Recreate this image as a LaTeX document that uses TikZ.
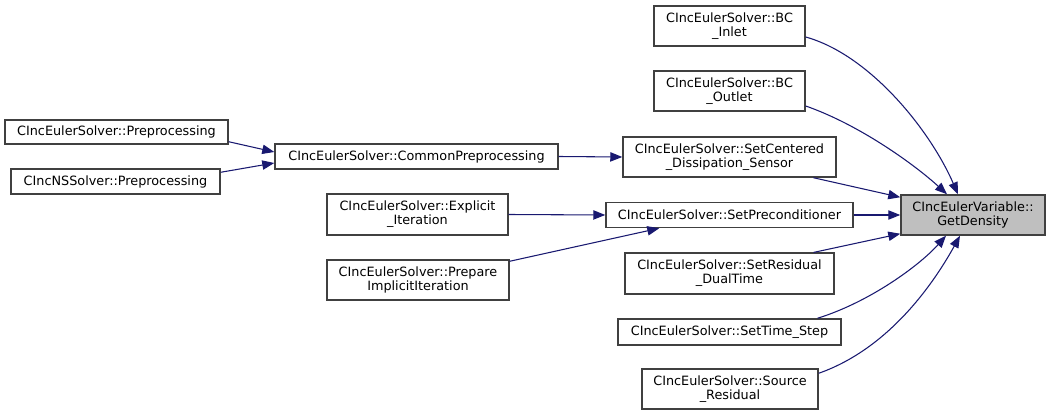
\documentclass[tikz,border=0pt]{standalone}
\usepackage{fontspec}
\setmainfont{DejaVu Sans}
\usetikzlibrary{arrows.meta,calc}
\definecolor{edgecol}{HTML}{191970}
\definecolor{boxcol}{HTML}{404040}
\definecolor{hlcol}{HTML}{BFBFBF}
\tikzset{
  box/.style={draw=boxcol, line width=1.1pt, fill=white, inner sep=0pt, align=center,
    font=\fontsize{9.6pt}{10.6pt}\selectfont},
  hl/.style={box, fill=hlcol},
  edge/.style={draw=edgecol, line width=0.8pt, -{Triangle[length=9pt,width=7pt]}}
}
\begin{document}
\begin{tikzpicture}[x=0.75pt,y=-0.75pt]
\useasboundingbox (0,0) rectangle (1051,417);
% callee
\node[hl, minimum width=108pt, minimum height=30pt] (gd) at (973,215) {CIncEulerVariable::\\GetDensity};
% callers column
\node[box, minimum width=113.25pt, minimum height=30pt] (bci) at (729.5,26) {CIncEulerSolver::BC\\\_Inlet};
\node[box, minimum width=113.25pt, minimum height=30pt] (bco) at (729.5,91) {CIncEulerSolver::BC\\\_Outlet};
\node[box, minimum width=159.75pt, minimum height=30pt] (sc) at (729.5,157) {CIncEulerSolver::SetCentered\\\_Dissipation\_Sensor};
\node[box, minimum width=185.25pt, minimum height=18.75pt] (sp) at (729.5,215) {CIncEulerSolver::SetPreconditioner};
\node[box, minimum width=156.75pt, minimum height=30.5pt] (sr) at (729.5,273.5) {CIncEulerSolver::SetResidual\\\_DualTime};
\node[box, minimum width=167.25pt, minimum height=19.5pt] (ts) at (729.5,332) {CIncEulerSolver::SetTime\_Step};
\node[box, minimum width=132pt, minimum height=30pt] (so) at (730,389) {CIncEulerSolver::Source\\\_Residual};
% second column
\node[box, minimum width=212.25pt, minimum height=19pt] (cp) at (416.5,156.5) {CIncEulerSolver::CommonPreprocessing};
\node[box, minimum width=135.75pt, minimum height=30.75pt] (ex) at (417.5,214.5) {CIncEulerSolver::Explicit\\\_Iteration};
\node[box, minimum width=136.5pt, minimum height=30pt] (pr) at (418,280) {CIncEulerSolver::Prepare\\ImplicitIteration};
% third column
\node[box, minimum width=167.25pt, minimum height=18pt] (ep) at (116.5,132) {CIncEulerSolver::Preprocessing};
\node[box, minimum width=156.75pt, minimum height=18.75pt] (np) at (115.5,181.5) {CIncNSSolver::Preprocessing};
% edges
\draw[edge] ($(bci.east)+(0,11)$) .. controls (870,55) and (930,130) .. ($(gd.north)+(-15,0)$);
\draw[edge] ($(bco.east)+(0,15)$) .. controls (860,125) and (915,165) .. ($(gd.north)+(-26,0)$);
\draw[edge] ($(sc.south)+(84,0)$) -- ($(gd.north west)+(0,3)$);
\draw[edge] (sp.east) -- (gd.west);
\draw[edge] ($(sr.north)+(84,0)$) -- ($(gd.south west)+(0,-2)$);
\draw[edge] ($(ts.north)+(88,0)$) .. controls (870,302) and (920,265) .. ($(gd.south)+(-27,0)$);
\draw[edge] ($(so.north east)+(0,5)$) .. controls (885,350) and (930,290) .. ($(gd.south)+(-13,0)$);
\draw[edge] (cp.east) -- (sc.west);
\draw[edge] (ex.east) -- (sp.west);
\draw[edge] ($(pr.north east)+(0,2)$) -- ($(sp.south west)+(54,0)$);
\draw[edge] ($(ep.south east)+(0,-3)$) -- ($(cp.west)+(0,-4.5)$);
\draw[edge] ($(np.north east)+(0,4)$) -- ($(cp.west)+(0,6.5)$);
\end{tikzpicture}
\end{document}
